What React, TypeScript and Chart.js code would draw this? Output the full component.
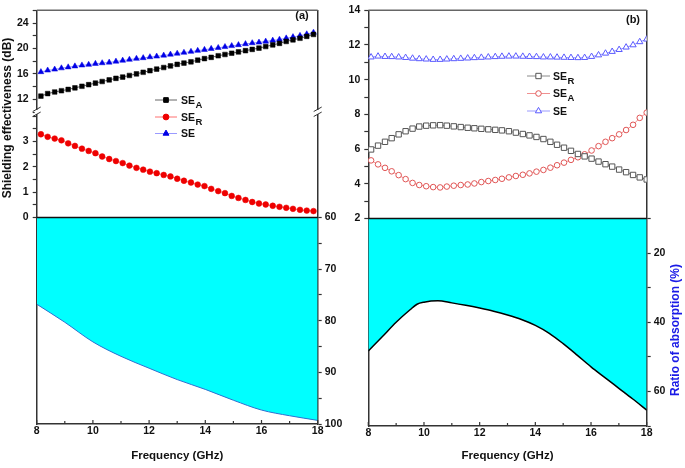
import React, { useEffect, useRef } from 'react';
import { Chart, registerables } from 'chart.js';
Chart.register(...registerables);

const FONT = "'Liberation Sans', Arial, Helvetica, sans-serif";

// ---------- Panel (a) data ----------
const freqA = [8.15, 8.39, 8.64, 8.88, 9.12, 9.36, 9.61, 9.85, 10.09, 10.33, 10.58, 10.82, 11.06, 11.3, 11.55, 11.79, 12.03, 12.27, 12.52, 12.76, 13.0, 13.24, 13.49, 13.73, 13.97, 14.21, 14.46, 14.7, 14.94, 15.18, 15.43, 15.67, 15.91, 16.15, 16.4, 16.64, 16.88, 17.12, 17.37, 17.61, 17.85];
const seAbsA = [12.5, 12.9, 13.15, 13.35, 13.55, 13.8, 14.05, 14.3, 14.55, 14.8, 15.05, 15.3, 15.5, 15.75, 16.0, 16.25, 16.5, 16.75, 17.0, 17.25, 17.5, 17.7, 17.9, 18.15, 18.4, 18.6, 18.85, 19.05, 19.25, 19.45, 19.65, 19.85, 20.05, 20.3, 20.55, 20.8, 21.1, 21.35, 21.6, 21.9, 22.2];
const seTotA = [16.3, 16.55, 16.7, 16.9, 17.05, 17.2, 17.35, 17.45, 17.6, 17.7, 17.8, 17.95, 18.1, 18.25, 18.4, 18.5, 18.65, 18.75, 18.9, 19.05, 19.2, 19.35, 19.5, 19.65, 19.8, 19.95, 20.1, 20.25, 20.4, 20.55, 20.7, 20.85, 20.95, 21.1, 21.25, 21.4, 21.6, 21.8, 22.0, 22.25, 22.5];
const seRefA = [3.29, 3.19, 3.12, 3.05, 2.93, 2.83, 2.72, 2.63, 2.54, 2.41, 2.31, 2.23, 2.15, 2.05, 1.96, 1.89, 1.81, 1.75, 1.68, 1.62, 1.53, 1.45, 1.38, 1.3, 1.24, 1.13, 1.04, 0.96, 0.85, 0.77, 0.69, 0.61, 0.55, 0.51, 0.46, 0.42, 0.38, 0.34, 0.3, 0.27, 0.25];
const absFreqA = [8, 9, 10, 11, 12, 13, 14, 15, 16, 17, 18];
const absRatioA = [76.8, 80.3, 84.1, 86.9, 89.2, 91.4, 93.3, 95.4, 97.3, 98.4, 99.3];

// ---------- Panel (b) data ----------
const freqB = [8.1, 8.35, 8.6, 8.84, 9.09, 9.34, 9.59, 9.83, 10.08, 10.33, 10.58, 10.82, 11.07, 11.32, 11.57, 11.81, 12.06, 12.31, 12.56, 12.8, 13.05, 13.3, 13.55, 13.79, 14.04, 14.29, 14.54, 14.78, 15.03, 15.28, 15.53, 15.77, 16.02, 16.27, 16.52, 16.76, 17.01, 17.26, 17.51, 17.75, 18.0];
const seRefB = [5.98, 6.2, 6.42, 6.63, 6.85, 7.03, 7.18, 7.3, 7.35, 7.37, 7.38, 7.35, 7.31, 7.27, 7.23, 7.2, 7.17, 7.14, 7.11, 7.08, 7.03, 6.95, 6.87, 6.79, 6.7, 6.58, 6.42, 6.25, 6.08, 5.9, 5.72, 5.58, 5.45, 5.28, 5.13, 4.99, 4.82, 4.67, 4.51, 4.37, 4.25];
const seAbsB = [5.35, 5.12, 4.92, 4.72, 4.5, 4.27, 4.05, 3.93, 3.86, 3.81, 3.79, 3.84, 3.89, 3.93, 3.96, 4.02, 4.1, 4.16, 4.22, 4.29, 4.37, 4.45, 4.52, 4.6, 4.7, 4.8, 4.93, 5.07, 5.22, 5.38, 5.53, 5.7, 5.92, 6.17, 6.42, 6.63, 6.85, 7.1, 7.4, 7.8, 8.1];
const seTotB = [11.3, 11.35, 11.33, 11.32, 11.3, 11.27, 11.23, 11.2, 11.18, 11.16, 11.16, 11.18, 11.2, 11.22, 11.24, 11.26, 11.28, 11.3, 11.32, 11.34, 11.35, 11.35, 11.34, 11.33, 11.32, 11.3, 11.3, 11.29, 11.28, 11.27, 11.26, 11.27, 11.33, 11.42, 11.52, 11.62, 11.73, 11.87, 12.0, 12.18, 12.33];
const absFreqB = [8, 8.5, 9, 9.5, 9.75, 10, 10.5, 11, 11.5, 12, 12.5, 13, 13.5, 14, 14.5, 15, 15.5, 16, 16.5, 17, 17.5, 18];
const absRatioB = [48.3, 44.2, 40.0, 36.4, 34.8, 34.2, 33.8, 34.4, 35.1, 35.9, 36.8, 37.9, 39.2, 40.9, 43.2, 46.2, 49.5, 52.9, 56.0, 59.1, 62.2, 65.4];

// ---------- tick labels ----------
const xLabels = [8, 10, 12, 14, 16, 18];
const topLabelsA = [12, 16, 20, 24];
const midLabelsA = [0, 1, 2, 3];
const ratioLabelsA = [60, 70, 80, 90, 100];
const seLabelsB = [2, 4, 6, 8, 10, 12, 14];
const ratioLabelsB = [20, 40, 60];

const pts = (xs: number[], ys: number[]) => xs.map((x, i) => ({ x, y: ys[i] }));
const near = (arr: number[], v: number) => arr.some((a) => Math.abs(a - v) < 1e-6);

const tickFont = { family: FONT, size: 10.5, weight: 'bold' as const };
const border = { display: true, color: '#333', width: 1.5 };
const tickGrid = { display: true, drawOnChartArea: false, drawTicks: true, tickLength: 4, tickColor: '#333', tickWidth: 1.2 };
const noGrid = { display: false, drawTicks: false };
const setW = (w: number) => (s: any) => { s.width = w; };
const setH = (h: number) => (s: any) => { s.height = h; };

function drawMarker(ctx: CanvasRenderingContext2D, style: string, x: number, y: number, r: number, fill: string, stroke: string) {
  ctx.beginPath();
  if (style === 'rect') {
    const s = r * Math.SQRT1_2;
    ctx.rect(x - s, y - s, 2 * s, 2 * s);
  } else if (style === 'circle') {
    ctx.arc(x, y, r, 0, Math.PI * 2);
  } else {
    let rad = 0;
    ctx.moveTo(x + Math.sin(rad) * r, y - Math.cos(rad) * r);
    rad += (2 * Math.PI) / 3;
    ctx.lineTo(x + Math.sin(rad) * r, y - Math.cos(rad) * r);
    rad += (2 * Math.PI) / 3;
    ctx.lineTo(x + Math.sin(rad) * r, y - Math.cos(rad) * r);
    ctx.closePath();
  }
  ctx.fillStyle = fill;
  ctx.fill();
  ctx.strokeStyle = stroke;
  ctx.lineWidth = 1;
  ctx.stroke();
}

function seg(ctx: CanvasRenderingContext2D, x1: number, y1: number, x2: number, y2: number, color: string, w: number) {
  ctx.beginPath();
  ctx.moveTo(x1, y1);
  ctx.lineTo(x2, y2);
  ctx.strokeStyle = color;
  ctx.lineWidth = w;
  ctx.stroke();
}

function makeDecor(o: any) {
  return {
    id: 'decor' + o.key,
    afterDraw(chart: any) {
      const { ctx, chartArea: ca, scales } = chart;
      ctx.save();
      // top frame
      seg(ctx, ca.left, ca.top, ca.right, ca.top, '#666', 1.5);
      // boundary between upper and lower part
      const yb = scales.yBot.top;
      seg(ctx, ca.left, yb, ca.right, yb, '#111', 1.5);
      // inward x ticks
      const xs = scales.x;
      for (const t of xs.ticks) {
        const px = xs.getPixelForValue(t.value);
        seg(ctx, px, ca.bottom, px, ca.bottom - (t.label ? 4 : 3), '#333', 1.2);
      }
      // axis breaks
      if (o.breaks) {
        const yk = scales.yTop.bottom;
        for (const x of [ca.left, ca.right]) {
          ctx.fillStyle = '#fff';
          ctx.fillRect(x - 2, yk - 2, 4, 4);
          seg(ctx, x - 4, yk - 0.5, x + 4, yk - 5, '#333', 1);
          seg(ctx, x - 4, yk + 4.5, x + 4, yk + 0, '#333', 1);
        }
      }
      // legend
      for (const it of o.legend) {
        seg(ctx, it.x0, it.y, it.x1, it.y, it.line, 1);
        drawMarker(ctx, it.style, (it.x0 + it.x1) / 2, it.y, it.r, it.fill, it.stroke);
        ctx.fillStyle = '#111';
        ctx.textAlign = 'left';
        ctx.textBaseline = 'alphabetic';
        ctx.font = `bold 10.5px ${FONT}`;
        ctx.fillText(it.main, it.tx, it.y + 3.8);
        if (it.sub) {
          const w = ctx.measureText(it.main).width;
          ctx.font = `bold 9.5px ${FONT}`;
          ctx.fillText(it.sub, it.tx + w + 0.5, it.y + 7.8);
        }
      }
      // panel label
      ctx.font = `bold 11px ${FONT}`;
      ctx.fillStyle = '#111';
      ctx.textAlign = 'center';
      ctx.textBaseline = 'middle';
      ctx.fillText(o.tag, o.tagX, o.tagY);
      // rotated title
      if (o.vtitle) {
        ctx.save();
        ctx.translate(o.vtitle.x, o.vtitle.y);
        ctx.rotate(-Math.PI / 2);
        ctx.font = `bold 12px ${FONT}`;
        ctx.fillStyle = o.vtitle.color;
        ctx.textAlign = 'center';
        ctx.textBaseline = 'middle';
        ctx.fillText(o.vtitle.text, 0, 0);
        ctx.restore();
      }
      ctx.restore();
    },
  };
}

const xScale = (h: number) => ({
  type: 'linear',
  position: 'bottom',
  min: 8,
  max: 18,
  border,
  grid: noGrid,
  ticks: {
    stepSize: 1,
    autoSkip: false,
    maxRotation: 0,
    font: tickFont,
    color: '#111',
    padding: 1,
    callback: (v: number) => (near(xLabels, v) ? String(v) : ''),
  },
  title: { display: true, text: 'Frequency (GHz)', font: { family: FONT, size: 11.5, weight: 'bold' }, color: '#111', padding: { top: 0, bottom: 5 } },
  afterFit: setH(h),
  z: 1,
});

function configA(): any {
  const LW = 36.7;
  const RW = 27.3;
  return {
    type: 'line',
    data: {
      datasets: [
        { data: pts(absFreqA, absRatioA), yAxisID: 'yBotR', borderColor: '#2f6fd0', borderWidth: 1, backgroundColor: '#00ffff', fill: { value: 60 }, pointRadius: 0, cubicInterpolationMode: 'monotone' },
        { data: pts(freqA, seAbsA), yAxisID: 'yTop', borderColor: '#666', borderWidth: 1, pointStyle: 'rect', pointRadius: 3.3, pointBackgroundColor: '#000', pointBorderColor: '#000', pointBorderWidth: 0.5 },
        { data: pts(freqA, seTotA), yAxisID: 'yTop', borderColor: '#9a9aff', borderWidth: 1, pointStyle: 'triangle', pointRadius: 3.4, pointBackgroundColor: '#0000e6', pointBorderColor: '#0000e6', pointBorderWidth: 0.5 },
        { data: pts(freqA, seRefA), yAxisID: 'yMid', borderColor: '#ff7070', borderWidth: 1, pointStyle: 'circle', pointRadius: 2.9, pointBackgroundColor: '#ee0000', pointBorderColor: '#ee0000', pointBorderWidth: 0.5 },
      ],
    },
    options: {
      responsive: false,
      animation: false,
      events: [],
      layout: { padding: { top: 6.5, left: 0, right: 0, bottom: 0 } },
      plugins: { legend: { display: false }, tooltip: { enabled: false } },
      scales: {
        x: xScale(44),
        yTop: {
          type: 'linear', axis: 'y', position: 'left', stack: 'L', stackWeight: 102.7, weight: 3,
          min: 10, max: 26, border, grid: tickGrid,
          ticks: { stepSize: 2, autoSkip: false, font: tickFont, color: '#111', padding: 4, callback: (v: number) => (near(topLabelsA, v) ? String(v) : '') },
          afterFit: setW(LW), z: 1,
        },
        yMid: {
          type: 'linear', axis: 'y', position: 'left', stack: 'L', stackWeight: 106.4, weight: 2,
          min: 0, max: 4.17, border, grid: tickGrid,
          ticks: { stepSize: 0.5, includeBounds: false, autoSkip: false, font: tickFont, color: '#111', padding: 4, callback: (v: number) => (near(midLabelsA, v) ? String(v) : '') },
          afterFit: setW(LW), z: 1,
        },
        yBot: {
          type: 'linear', axis: 'y', position: 'left', stack: 'L', stackWeight: 208.6, weight: 1,
          min: 60, max: 100, reverse: true, border, grid: noGrid, ticks: { display: false },
          afterFit: setW(LW), z: 1,
        },
        yTopR: {
          type: 'linear', axis: 'y', position: 'right', stack: 'R', stackWeight: 102.7, weight: 1,
          min: 10, max: 26, border, grid: noGrid, ticks: { display: false },
          afterFit: setW(RW), z: 1,
        },
        yMidR: {
          type: 'linear', axis: 'y', position: 'right', stack: 'R', stackWeight: 106.4, weight: 2,
          min: 0, max: 4.17, border, grid: noGrid, ticks: { display: false },
          afterFit: setW(RW), z: 1,
        },
        yBotR: {
          type: 'linear', axis: 'y', position: 'right', stack: 'R', stackWeight: 208.6, weight: 3,
          min: 60, max: 100, reverse: true, border, grid: tickGrid,
          ticks: { stepSize: 5, autoSkip: false, font: tickFont, color: '#111', padding: 3, callback: (v: number) => (near(ratioLabelsA, v) ? String(v) : '') },
          afterFit: setW(RW), z: 1,
        },
      },
    },
    plugins: [
      makeDecor({
        key: 'A',
        breaks: true,
        tag: '(a)', tagX: 302, tagY: 16,
        vtitle: { text: 'Shielding effectiveness (dB)', x: 8, y: 118, color: '#111' },
        legend: [
          { x0: 155, x1: 177, y: 100, tx: 181, style: 'rect', r: 3.3, fill: '#000', stroke: '#000', line: '#666', main: 'SE', sub: 'A' },
          { x0: 155, x1: 177, y: 117, tx: 181, style: 'circle', r: 2.9, fill: '#ee0000', stroke: '#ee0000', line: '#ff7070', main: 'SE', sub: 'R' },
          { x0: 155, x1: 177, y: 133.5, tx: 181, style: 'triangle', r: 3.4, fill: '#0000e6', stroke: '#0000e6', line: '#9a9aff', main: 'SE', sub: '' },
        ],
      }),
    ],
  };
}

function configB(): any {
  const LW = 28.3;
  const RW = 38.3;
  return {
    type: 'line',
    data: {
      datasets: [
        { data: pts(absFreqB, absRatioB), yAxisID: 'yBotR', borderColor: '#000', borderWidth: 1.5, backgroundColor: '#00ffff', fill: { value: 10 }, pointRadius: 0, cubicInterpolationMode: 'monotone' },
        { data: pts(freqB, seRefB), yAxisID: 'yTop', borderColor: '#8a8a8a', borderWidth: 1, pointStyle: 'rect', pointRadius: 3.8, pointBackgroundColor: '#fff', pointBorderColor: '#555', pointBorderWidth: 1 },
        { data: pts(freqB, seAbsB), yAxisID: 'yTop', borderColor: '#f09090', borderWidth: 1, pointStyle: 'circle', pointRadius: 2.8, pointBackgroundColor: '#fff', pointBorderColor: '#e05555', pointBorderWidth: 1 },
        { data: pts(freqB, seTotB), yAxisID: 'yTop', borderColor: '#9a9aff', borderWidth: 1, pointStyle: 'triangle', pointRadius: 3.6, pointBackgroundColor: '#fff', pointBorderColor: '#5a5aff', pointBorderWidth: 1 },
      ],
    },
    options: {
      responsive: false,
      animation: false,
      events: [],
      layout: { padding: { top: 6.7, left: 0, right: 0, bottom: 0 } },
      plugins: { legend: { display: false }, tooltip: { enabled: false } },
      scales: {
        x: xScale(42),
        yTop: {
          type: 'linear', axis: 'y', position: 'left', stack: 'L', stackWeight: 210, weight: 2,
          min: 2, max: 14, border, grid: tickGrid,
          ticks: { stepSize: 1, autoSkip: false, font: tickFont, color: '#111', padding: 4, callback: (v: number) => (near(seLabelsB, v) ? String(v) : '') },
          afterFit: setW(LW), z: 1,
        },
        yBot: {
          type: 'linear', axis: 'y', position: 'left', stack: 'L', stackWeight: 209.3, weight: 1,
          min: 10, max: 70, reverse: true, border, grid: noGrid, ticks: { display: false },
          afterFit: setW(LW), z: 1,
        },
        yTopR: {
          type: 'linear', axis: 'y', position: 'right', stack: 'R', stackWeight: 210, weight: 1,
          min: 2, max: 14, border, grid: noGrid, ticks: { display: false },
          afterFit: setW(RW), z: 1,
        },
        yBotR: {
          type: 'linear', axis: 'y', position: 'right', stack: 'R', stackWeight: 209.3, weight: 2,
          min: 10, max: 70, reverse: true, border, grid: tickGrid,
          ticks: { stepSize: 10, autoSkip: false, font: tickFont, color: '#111', padding: 3, callback: (v: number) => (near(ratioLabelsB, v) ? String(v) : '') },
          afterFit: setW(RW), z: 1,
        },
      },
    },
    plugins: [
      makeDecor({
        key: 'B',
        breaks: false,
        tag: '(b)', tagX: 293, tagY: 20,
        vtitle: { text: 'Ratio of absorption (%)', x: 336, y: 330, color: '#1a1ae6' },
        legend: [
          { x0: 187, x1: 210, y: 76, tx: 213, style: 'rect', r: 3.8, fill: '#fff', stroke: '#555', line: '#8a8a8a', main: 'SE', sub: 'R' },
          { x0: 187, x1: 210, y: 93.5, tx: 213, style: 'circle', r: 2.8, fill: '#fff', stroke: '#e05555', line: '#f09090', main: 'SE', sub: 'A' },
          { x0: 187, x1: 210, y: 111, tx: 213, style: 'triangle', r: 3.6, fill: '#fff', stroke: '#5a5aff', line: '#9a9aff', main: 'SE', sub: '' },
        ],
      }),
    ],
  };
}

function Panel({ left, build }: { left: number; build: () => any }) {
  const ref = useRef<HTMLCanvasElement>(null);
  useEffect(() => {
    const chart = new Chart(ref.current as HTMLCanvasElement, build());
    return () => chart.destroy();
  }, []);
  return (
    <canvas
      ref={ref}
      width={345}
      height={468}
      style={{ position: 'absolute', left, top: 0, width: 345, height: 468, display: 'block' }}
    />
  );
}

export default function App() {
  return (
    <div style={{ position: 'absolute', left: 0, top: 0, width: 685, height: 468, background: '#fff', overflow: 'hidden' }}>
      <Panel left={0} build={configA} />
      <Panel left={340} build={configB} />
    </div>
  );
}
